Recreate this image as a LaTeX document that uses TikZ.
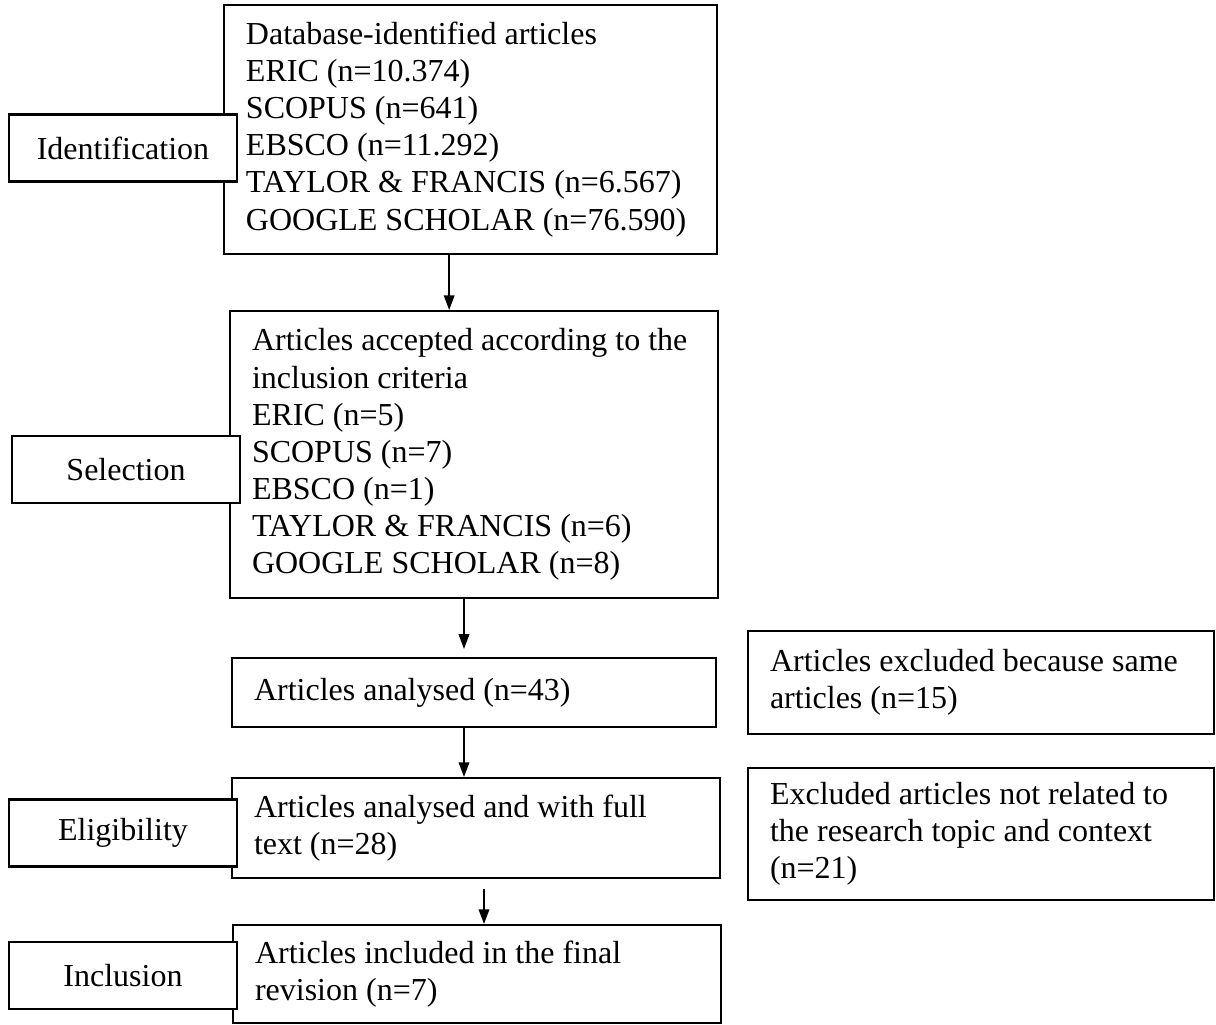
\documentclass[tikz,border=0pt]{standalone}
\usepackage{fontspec}
\setmainfont{Liberation Serif}
\usetikzlibrary{arrows.meta,positioning}

\begin{document}
\begin{tikzpicture}[
      x=0.375pt, y=-0.375pt,
      flowbox/.style={
        draw,
        line width=0.8pt,
        fill=white,
        inner xsep=8.25pt,
        inner ysep=0pt,
        align=flush left,
        font=\fontsize{12}{13.9}\selectfont
      },
      stagebox/.style={
        draw,
        line width=0.8pt,
        fill=white,
        minimum width=85.5pt,
        minimum height=25.1pt,
        inner sep=0pt,
        align=flush center,
        font=\fontsize{12}{13.9}\selectfont
      },
      flowarrow/.style={
        line width=0.55pt,
        -{Triangle[length=5.5pt,width=4pt]}
      }
    ]
      \useasboundingbox (0,0) rectangle (1216,1025);
      \node[flowbox,text width=168.4pt,minimum height=93.4pt] (database) at (470.5,129.5) {
        Database-identified articles\\
        ERIC (n=10.374)\\
        SCOPUS (n=641)\\
        EBSCO (n=11.292)\\
        TAYLOR \& FRANCIS (n=6.567)\\
        GOOGLE SCHOLAR (n=76.590)
      };
      \node[flowbox,text width=166.5pt,minimum height=107.6pt] (accepted) at (474,454.5) {
        Articles accepted according to the\\
        inclusion criteria\\
        ERIC (n=5)\\
        SCOPUS (n=7)\\
        EBSCO (n=1)\\
        TAYLOR \& FRANCIS (n=6)\\
        GOOGLE SCHOLAR (n=8)
      };
      \node[flowbox,text width=165pt,minimum height=25.9pt] (analysed) at (474,692.5) {
        Articles analysed (n=43)
      };
      \node[flowbox,text width=166.5pt,minimum height=37.5pt] (fulltext) at (476,828) {
        Articles analysed and with full\\
        text (n=28)
      };
      \node[flowbox,text width=166.5pt,minimum height=36.75pt] (included) at (477,974) {
        Articles included in the final\\
        revision (n=7)
      };
      \node[flowbox,text width=158.25pt,minimum height=38.6pt] (samearticles) at (981,682.5) {
        Articles excluded because same\\
        articles (n=15)
      };
      \node[flowbox,text width=158.25pt,minimum height=49.5pt] (notrelated) at (981,834) {
        Excluded articles not related to\\
        the research topic and context\\
        (n=21)
      };

      \node[stagebox] (identification) at (123,148) {Identification};
      \node[stagebox] (selection) at (126,469.5) {Selection};
      \node[stagebox] (eligibility) at (123,833) {Eligibility};
      \node[stagebox] (inclusion) at (123,975.5) {Inclusion};

      \draw[flowarrow] ([xshift=-8pt]database.south) -- ([xshift=-8pt]database.south |- accepted.north);
      \draw[flowarrow,shorten >=3pt] ([xshift=-3.75pt]accepted.south) -- ([xshift=-3.75pt]accepted.south |- analysed.north);
      \draw[flowarrow] ([xshift=-3.75pt]analysed.south) -- ([xshift=-3.75pt]analysed.south |- fulltext.north);
      \draw[flowarrow,shorten <=3.75pt] ([xshift=3pt]fulltext.south) -- ([xshift=3pt]fulltext.south |- included.north);
    \end{tikzpicture}
\end{document}
